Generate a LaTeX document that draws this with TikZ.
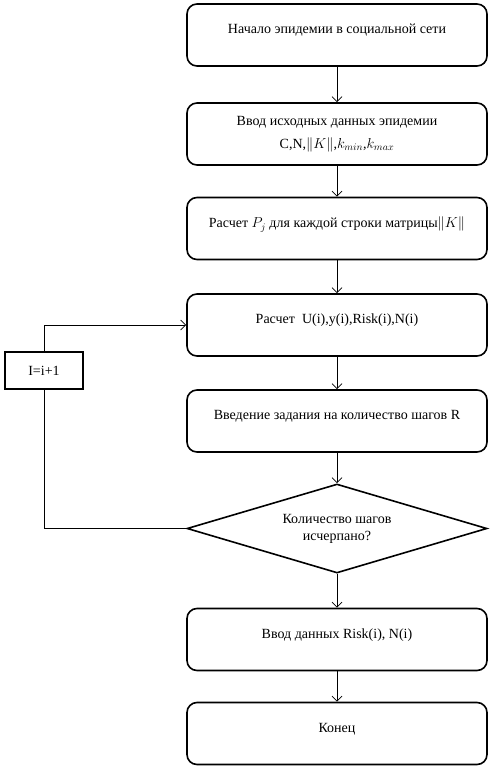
\documentclass[tikz,border=0pt]{standalone}
\usepackage{fontspec}
\setmainfont{Liberation Serif}
\usetikzlibrary{shapes.geometric,arrows.meta}

\tikzset{
  blok/.style={draw, line width=1.6pt, rounded corners=10pt, minimum width=300pt,
    minimum height=62pt, inner sep=0pt, text depth=12pt},
  usl/.style={draw, diamond, shape aspect=3.37, line width=1.6pt, minimum width=300pt,
    minimum height=89pt, inner sep=0pt, align=center},
  pryam/.style={draw, line width=1.6pt, minimum width=78pt, minimum height=37pt, inner sep=0pt},
  strelka/.style={line width=0.7pt, -{Straight Barb[length=5pt,width=10pt]}},
  liniya/.style={line width=0.7pt}
}

\begin{document}
\begin{tikzpicture}[x=1pt,y=-1pt,font=\fontsize{14}{17}\selectfont]
\useasboundingbox (0,0) rectangle (497,771);
\node[blok] (nachalo) at (337,35) {Начало эпидемии в социальной сети};
\node[blok, align=center, text depth=3pt] (vvod) at (337,134) {Ввод исходных данных эпидемии\\[6pt]
  C,N,$\|K\|$,$k_{min}$,$k_{max}$};
\node[blok] (raschetP) at (337,228.5) {Расчет $P_j$ для каждой строки матрицы$\|K\|$};
\node[blok] (raschetU) at (337,325) {Расчет\ \ U(i),y(i),Risk(i),N(i)};
\node[blok] (shagi) at (337,421) {Введение задания на количество шагов R};
\node[usl] (uslovie) at (337,528.5) {Количество шагов\\исчерпано?};
\node[blok] (vyvod) at (337,639.5) {Ввод данных Risk(i), N(i)};
\node[blok] (konec) at (337,733.5) {Конец};
\node[pryam] (inkr) at (44,370.5) {I=i+1};

\foreach \a/\b in {nachalo/vvod, vvod/raschetP, raschetP/raschetU, raschetU/shagi,
  shagi/uslovie, uslovie/vyvod, vyvod/konec}
  \draw[strelka] (\a.south) -- (\b.north);
\draw[liniya] (uslovie.west) -| (inkr.south);
\draw[strelka] (inkr.north) |- (raschetU.west);
\end{tikzpicture}
\end{document}
